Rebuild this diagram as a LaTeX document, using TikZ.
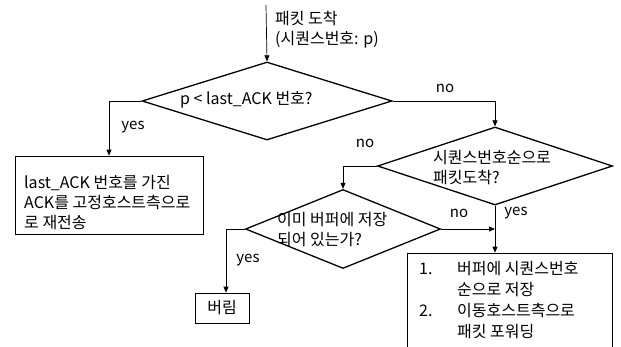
\documentclass[tikz,border=0pt]{standalone}
\usepackage{fontspec}
\setmainfont{Noto Sans CJK KR}
\usetikzlibrary{shapes.geometric,arrows.meta,positioning}
\tikzset{
  decision/.style={diamond, draw, line width=1.3pt, inner sep=0pt},
  block/.style={rectangle, draw, line width=0.7pt, inner sep=0pt},
  flow/.style={line width=0.7pt, -{Triangle[length=6pt,width=5pt]}},
  lbl/.style={inner sep=0pt, font=\fontsize{15}{16}\selectfont},
  txt/.style={inner sep=0pt, align=left, font=\fontsize{16}{20}\selectfont},
}
\begin{document}
\begin{tikzpicture}[x=1pt,y=-1pt]
  \useasboundingbox (0,0) rectangle (621,346);
  \clip (0,0) rectangle (621,346);
  % start
  \coordinate (start) at (266,5);
  \node[txt, anchor=west] (arrive) at (275,30) {패킷 도착\\(시퀀스번호: p)};
  % decisions
  \node[decision, minimum width=250pt, minimum height=78pt] (d1) at (267,101) {};
  \node[txt, anchor=west] (d1txt) at (180,100) {p < last\_ACK 번호?};
  \node[decision, minimum width=235pt, minimum height=78pt] (d2) at (495,166) {};
  \node[txt, anchor=west] (d2txt) at (433,168) {시퀀스번호순으로\\패킷도착?};
  \node[decision, minimum width=195pt, minimum height=79pt] (d3) at (343,229) {};
  \node[txt, anchor=west] (d3txt) at (277,230) {이미 버퍼에 저장\\되어 있는가?};
  % boxes
  \node[block, minimum width=188pt, minimum height=78pt] (resend) at (109,195) {};
  \node[txt, anchor=west] (resendtxt) at (24,203) {last\_ACK 번호를 가진\\ACK를 고정호스트측으로\\로 재전송};
  \node[block, minimum width=54pt, minimum height=30pt, txt] (drop) at (222,308) {버림};
  \node[block, minimum width=205pt, minimum height=110pt] (store) at (509.5,308) {};
  \node[txt, anchor=north west, font=\fontsize{16}{21}\selectfont] (storetxt) at (419,261)
    {\makebox[38pt][l]{1.}버퍼에 시퀀스번호\\\hspace*{38pt}순으로 저장\\
     \makebox[38pt][l]{2.}이동호스트측으로\\\hspace*{38pt}패킷 포워딩};
  % connectors
  \draw[flow] (start) -- (d1.north);
  \draw[flow] (d1.west) -| (resend.north);
  \draw[flow] (d1.east) -| (d2.north);
  \draw[flow] (d2.west) -| (d3.north);
  \draw[flow] (d2.south) -- (d2.south |- store.north);
  \draw[flow] (d3.east) -- (d3.east -| d2.south);
  \draw[flow] (d3.west) -| ([xshift=4pt]drop.north);
  % labels
  \node[lbl] (yes1) at (133,127) {yes};
  \node[lbl] (no1) at (445,88) {no};
  \node[lbl] (no2) at (365,143) {no};
  \node[lbl] (yes2) at (516,213) {yes};
  \node[lbl] (no3) at (459,213) {no};
  \node[lbl] (yes3) at (248,260) {yes};
\end{tikzpicture}
\end{document}
